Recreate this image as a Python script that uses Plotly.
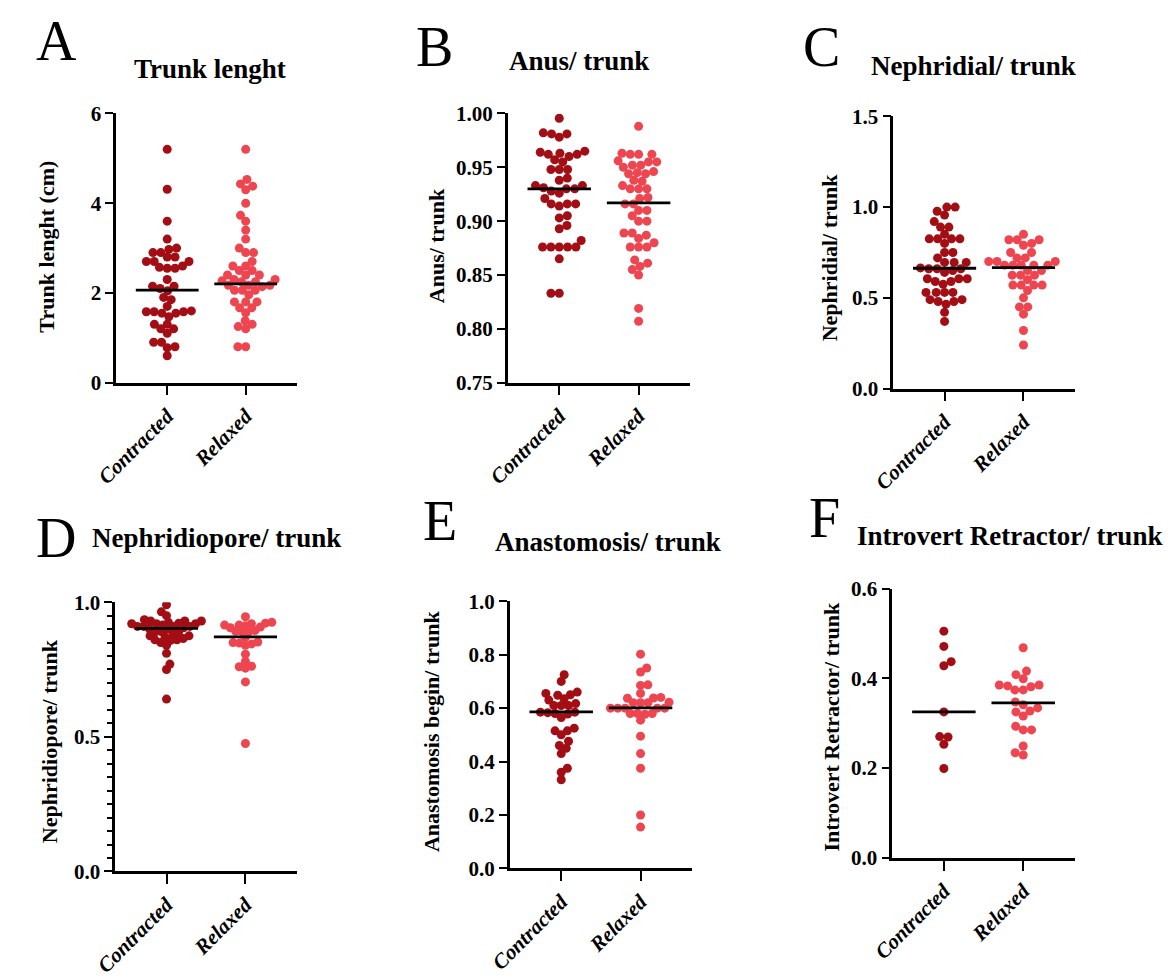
import numpy as np
import plotly.graph_objects as go

W, H = 1168, 980
FONT = "Liberation Serif"
C_CON = "#A30D14"
C_REL = "#EE4650"

groups = ["Contracted", "Relaxed"]

# ---------------- data ----------------
trunk_con = [5.2, 4.31, 3.6, 3.2, 3.0, 2.97, 2.9, 2.9, 2.8, 2.8, 2.7, 2.7, 2.7, 2.55, 2.55, 2.57, 2.6,
             2.3, 2.15, 2.15, 2.1, 2.05, 1.9, 1.85, 1.7, 1.6, 1.58, 1.55, 1.55, 1.58, 1.58, 1.47,
             1.3, 1.3, 1.2, 1.2, 1.1, 0.9, 0.9, 0.8, 0.78, 0.6]
trunk_rel = [5.2, 4.53, 4.43, 4.3, 4.38, 4.0, 3.73, 3.6, 3.4, 3.2, 3.0, 2.9, 2.9, 2.7, 2.6, 2.6, 2.5,
             2.5, 2.4, 2.4, 2.4, 2.3, 2.3, 2.25, 2.27, 2.25, 2.17, 2.17, 2.17, 2.14, 2.06, 2.06,
             2.06, 1.96, 1.8, 1.8, 1.8, 1.67, 1.67, 1.56, 1.38, 1.3, 1.25, 1.2, 0.8, 0.8]
trunk_line = [2.065, 2.2]

anus_con = [0.9955, 0.982, 0.981, 0.981, 0.978, 0.965, 0.964, 0.962, 0.960, 0.962, 0.963, 0.955,
            0.957, 0.948, 0.948, 0.948, 0.938, 0.94, 0.933, 0.933, 0.931, 0.93, 0.93, 0.926, 0.928,
            0.921, 0.916, 0.914, 0.916, 0.916, 0.905, 0.903, 0.896, 0.893, 0.882, 0.876, 0.876,
            0.876, 0.876, 0.876, 0.865, 0.833, 0.833]
anus_rel = [0.988, 0.963, 0.962, 0.962, 0.962, 0.955, 0.956, 0.952, 0.952, 0.955, 0.95, 0.945,
            0.944, 0.944, 0.946, 0.938, 0.937, 0.933, 0.93, 0.93, 0.93, 0.922, 0.921, 0.916, 0.916,
            0.905, 0.91, 0.91, 0.9, 0.9, 0.889, 0.889, 0.887, 0.884, 0.88, 0.876, 0.876, 0.876,
            0.864, 0.861, 0.855, 0.858, 0.85, 0.819, 0.807]
anus_line = [0.930, 0.917]

neph_con = [1.0, 1.0, 0.977, 0.956, 0.92, 0.89, 0.89, 0.85, 0.825, 0.825, 0.825, 0.825, 0.8, 0.75,
            0.75, 0.72, 0.695, 0.695, 0.695, 0.665, 0.66, 0.66, 0.66, 0.64, 0.65, 0.605, 0.605,
            0.605, 0.59, 0.59, 0.575, 0.53, 0.53, 0.53, 0.53, 0.49, 0.49, 0.48, 0.48, 0.465, 0.42, 0.37]
neph_rel = [0.85, 0.82, 0.82, 0.8, 0.79, 0.82, 0.75, 0.75, 0.72, 0.72, 0.7, 0.7, 0.7, 0.68, 0.68,
            0.68, 0.68, 0.68, 0.65, 0.65, 0.625, 0.625, 0.625, 0.6, 0.57, 0.57, 0.57, 0.57, 0.54,
            0.5, 0.45, 0.45, 0.41, 0.32, 0.24]
neph_line = [0.663, 0.666]

pore_con = [0.99, 0.964, 0.95, 0.93, 0.93, 0.935, 0.93, 0.925, 0.92, 0.92, 0.92, 0.922, 0.91, 0.91,
            0.91, 0.91, 0.915, 0.9, 0.9, 0.905, 0.89, 0.89, 0.89, 0.88, 0.875, 0.875, 0.87, 0.865,
            0.86, 0.858, 0.86, 0.85, 0.84, 0.81, 0.77, 0.75, 0.64]
pore_rel = [0.946, 0.915, 0.92, 0.922, 0.925, 0.915, 0.912, 0.908, 0.905, 0.89, 0.892, 0.89, 0.895,
            0.87, 0.845, 0.85, 0.848, 0.852, 0.84, 0.807, 0.78, 0.755, 0.76, 0.762, 0.704, 0.475]
pore_line = [0.903, 0.871]

anas_con = [0.725, 0.7, 0.655, 0.66, 0.648, 0.65, 0.63, 0.635, 0.61, 0.61, 0.61, 0.617, 0.58,
            0.578, 0.583, 0.585, 0.585, 0.565, 0.515, 0.525, 0.515, 0.5, 0.476, 0.46, 0.45, 0.43,
            0.375, 0.36, 0.332]
anas_rel = [0.802, 0.75, 0.735, 0.685, 0.687, 0.655, 0.637, 0.64, 0.638, 0.62, 0.62, 0.622, 0.62,
            0.6, 0.6, 0.6, 0.6, 0.6, 0.58, 0.58, 0.58, 0.577, 0.555, 0.495, 0.43, 0.375, 0.2, 0.155]
anas_line = [0.586, 0.601]

intro_con = [0.505, 0.471, 0.437, 0.428, 0.325, 0.27, 0.269, 0.253, 0.199]
intro_rel = [0.468, 0.416, 0.408, 0.399, 0.383, 0.385, 0.374, 0.385, 0.374, 0.381, 0.347, 0.334,
             0.341, 0.327, 0.325, 0.316, 0.285, 0.293, 0.285, 0.249, 0.229, 0.234]
intro_line = [0.325, 0.345]

# tick values / labels
ticks_A = [0, 2, 4, 6]
ticks_B = [0.75, 0.80, 0.85, 0.90, 0.95, 1.00]
ticks_C = [0.0, 0.5, 1.0, 1.5]
ticks_D = [0.0, 0.5, 1.0]
ticks_E = [0.0, 0.2, 0.4, 0.6, 0.8, 1.0]
ticks_F = [0.0, 0.2, 0.4, 0.6]

panels = [
    dict(letter="A", title="Trunk lenght", ytitle="Trunk lenght (cm)", con=trunk_con, rel=trunk_rel,
         line=trunk_line, ticks=ticks_A, fmt="d", box=(96, 280, 104, 380), gap=8.0,
         letter_xy=(35, 30), title_xy=(192, 58), ytitle_xy=(25, 241), minor=None),
    dict(letter="B", title="Anus/ trunk", ytitle="Anus/ trunk", con=anus_con, rel=anus_rel,
         line=anus_line, ticks=ticks_B, fmt=".2f", box=(495, 681, 104, 380), gap=8.5,
         letter_xy=(420, 36), title_xy=(568, 50), ytitle_xy=(422, 240), minor=None),
    dict(letter="C", title="Nephridial/ trunk", ytitle="Nephridial/ trunk", con=neph_con, rel=neph_rel,
         line=neph_line, ticks=ticks_C, fmt=".1f", box=(888, 1073, 107, 386), gap=8.5,
         letter_xy=(815, 36), title_xy=(970, 55), ytitle_xy=(823, 251), minor=None),
    dict(letter="D", title="Nephridiopore/ trunk", ytitle="Nephridiopore/ trunk", con=pore_con, rel=pore_rel,
         line=pore_line, ticks=ticks_D, fmt=".1f", box=(95, 280, 605, 881), gap=6.5,
         letter_xy=(35, 539), title_xy=(198, 539), ytitle_xy=(28, 747), minor=0.05),
    dict(letter="E", title="Anastomosis/ trunk", ytitle="Anastomosis begin/ trunk", con=anas_con, rel=anas_rel,
         line=anas_line, ticks=ticks_E, fmt=".1f", box=(497, 683, 604, 878), gap=7.5,
         letter_xy=(426, 522), title_xy=(597, 543), ytitle_xy=(418, 737), minor=None),
    dict(letter="F", title="Introvert Retractor/ trunk", ytitle="Introvert Retractor/ trunk", con=intro_con,
         rel=intro_rel, line=intro_line, ticks=ticks_F, fmt=".1f", box=(887, 1073, 591, 867), gap=8.5,
         letter_xy=(818, 519), title_xy=(1006, 537), ytitle_xy=(825, 732), minor=None),
]

XR = [0.35, 2.65]
DOT = 9.0
HALF = 0.4


def swarm(values, py_per_unit, px_per_unit, d):
    vals = np.asarray(values, dtype=float)
    order = np.argsort(vals, kind="stable")
    placed = []
    xs = np.zeros(len(vals))
    for k, i in enumerate(order):
        y = vals[i] * py_per_unit
        cands = [0.0]
        for (px, py) in placed:
            dy = abs(py - y)
            if dy < d:
                dx = np.sqrt(d * d - dy * dy)
                cands += [px + dx, px - dx]
        sgn = 1 if k % 2 else -1
        cands.sort(key=lambda c: (round(abs(c), 6), sgn * c))
        for c in cands:
            if all((c - px) ** 2 + (y - py) ** 2 >= d * d - 1e-6 for px, py in placed):
                xs[i] = c
                break
        placed.append((xs[i], y))
    return xs / px_per_unit


fig = go.Figure()
annotations = []
layout_axes = {}

for n, p in enumerate(panels, start=1):
    x0, x1, y0, y1 = p["box"]
    ymin, ymax = p["ticks"][0], p["ticks"][-1]
    px_per_x = (x1 - x0) / (XR[1] - XR[0])
    py_per_y = (y1 - y0) / (ymax - ymin)
    xa = "x" if n == 1 else f"x{n}"
    ya = "y" if n == 1 else f"y{n}"
    for gi, (vals, col) in enumerate([(p["con"], C_CON), (p["rel"], C_REL)]):
        center = gi + 1
        offs = swarm(vals, py_per_y, px_per_x, p["gap"])
        fig.add_trace(go.Scatter(
            x=center + offs, y=vals, mode="markers", xaxis=xa, yaxis=ya,
            marker=dict(size=DOT, color=col, line=dict(width=0)),
            name=groups[gi], showlegend=False, hoverinfo="y"))
    for gi in range(2):
        center = gi + 1
        fig.add_trace(go.Scatter(
            x=[center - HALF, center + HALF], y=[p["line"][gi]] * 2, mode="lines",
            xaxis=xa, yaxis=ya, line=dict(color="black", width=2.8),
            showlegend=False, hoverinfo="skip"))
    xkey = "xaxis" if n == 1 else f"xaxis{n}"
    ykey = "yaxis" if n == 1 else f"yaxis{n}"
    layout_axes[xkey] = dict(
        domain=[x0 / W, x1 / W], anchor=ya, range=XR, tickvals=[1, 2], ticktext=groups,
        ticks="outside", ticklen=10, tickwidth=2, tickcolor="black",
        showline=True, linewidth=2.5, linecolor="black", showgrid=False, zeroline=False,
        tickangle=-45, fixedrange=True,
        tickfont=dict(family=FONT, size=21, color="black", weight="bold", style="italic"))
    yax = dict(
        domain=[1 - y1 / H, 1 - y0 / H], anchor=xa, range=[ymin, ymax], tickvals=p["ticks"],
        tickformat=p["fmt"], ticks="outside", ticklen=8, tickwidth=2, tickcolor="black",
        showline=True, linewidth=2.5, linecolor="black", showgrid=False, zeroline=False,
        fixedrange=True, tickfont=dict(family=FONT, size=21, color="black", weight="bold"))
    if p["minor"]:
        yax["minor"] = dict(dtick=p["minor"], tick0=0, ticks="outside", ticklen=5, tickwidth=2,
                            tickcolor="black", showgrid=False)
    layout_axes[ykey] = yax

    lx, ly = p["letter_xy"]
    annotations.append(dict(text=p["letter"], x=lx / W, y=1 - ly / H, xref="paper", yref="paper",
                            xanchor="center", yanchor="middle", showarrow=False,
                            font=dict(family=FONT, size=56, color="black")))
    tx, ty = p["title_xy"]
    annotations.append(dict(text=p["title"], x=tx / W, y=1 - ty / H, xref="paper", yref="paper",
                            xanchor="center", yanchor="middle", showarrow=False,
                            font=dict(family=FONT, size=27, color="black", weight="bold")))
    ax_, ay_ = p["ytitle_xy"]
    annotations.append(dict(text=p["ytitle"], x=ax_ / W, y=1 - ay_ / H, xref="paper", yref="paper",
                            xanchor="center", yanchor="middle", showarrow=False, textangle=-90,
                            font=dict(family=FONT, size=22, color="black", weight="bold")))

fig.update_layout(
    width=W, height=H, margin=dict(l=0, r=0, t=0, b=0),
    paper_bgcolor="white", plot_bgcolor="white", showlegend=False,
    annotations=annotations, **layout_axes)

fig.write_html("out.html", config={"displayModeBar": False},
               post_script="document.body.style.margin='0';document.body.style.overflow='hidden';")
